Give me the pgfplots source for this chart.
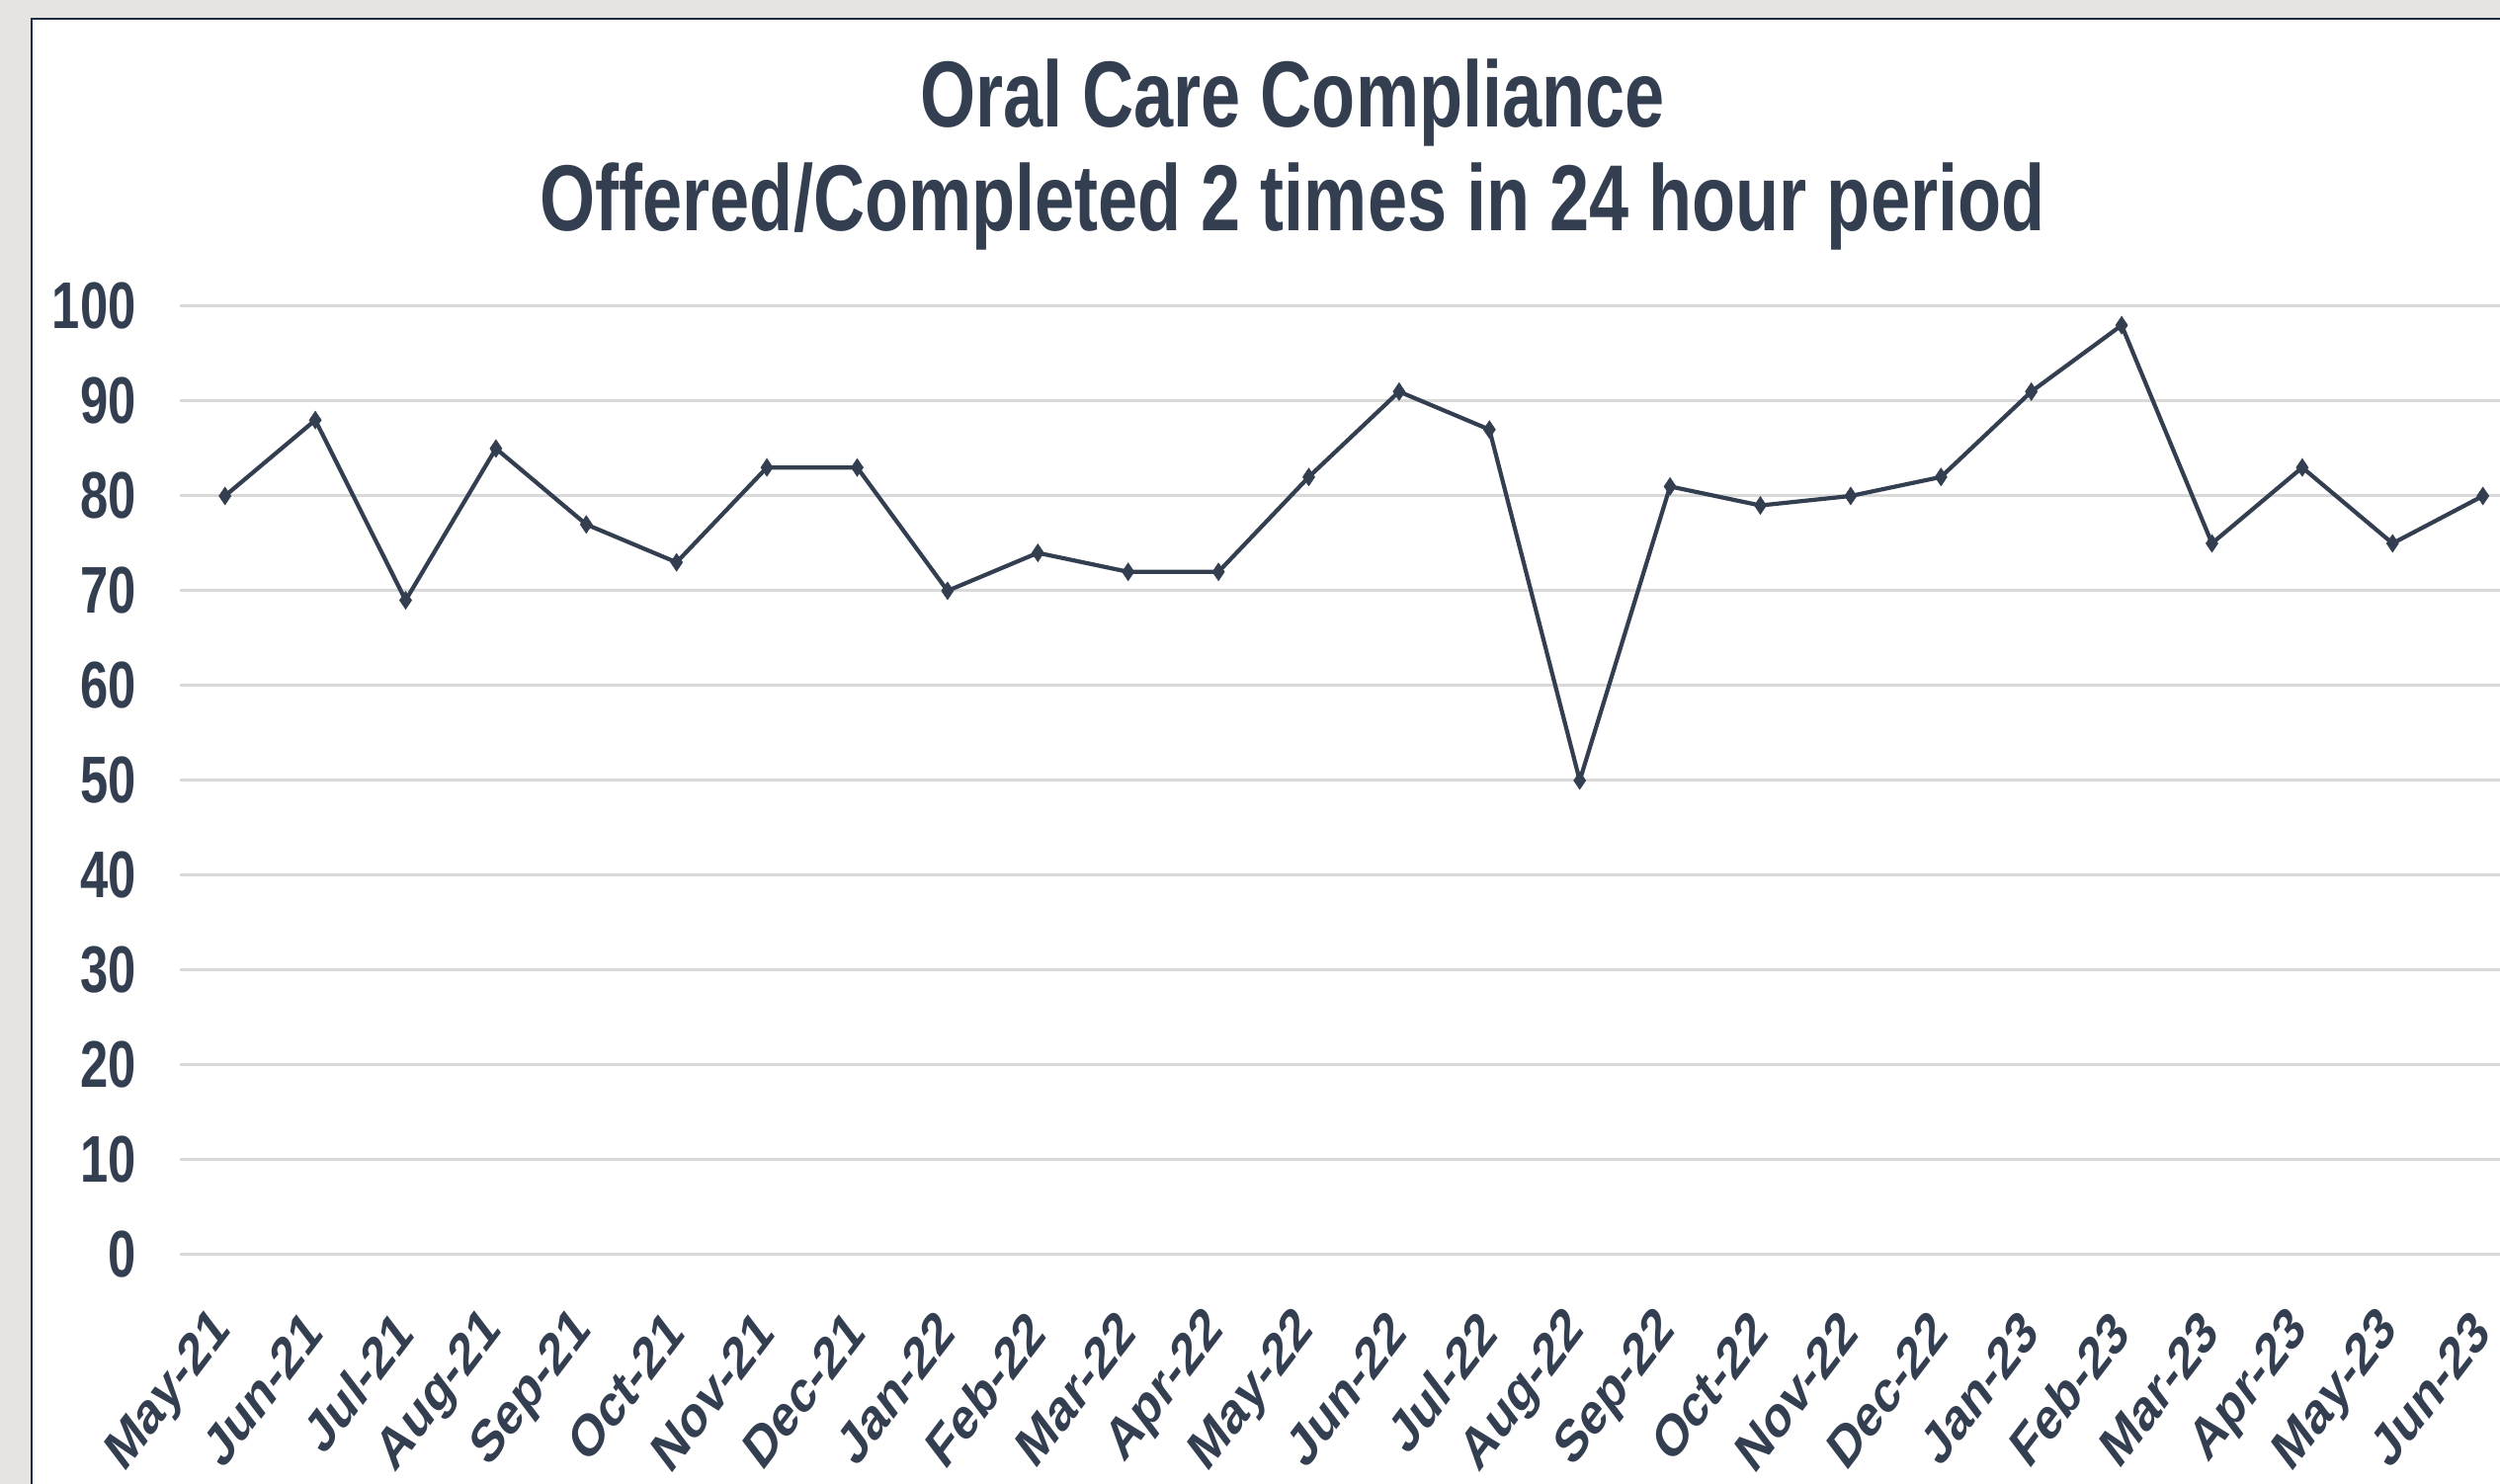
\documentclass[border=0pt]{standalone}
\usepackage{fontspec}
\usepackage{pgfplots}
\pgfplotsset{compat=1.18}
\setmainfont{Liberation Sans}
\newfontfamily\cfont{Liberation Sans Bold}[FakeStretch=0.76]
\newfontfamily\lfont{Liberation Sans Bold}
\definecolor{textc}{HTML}{333F50}
\definecolor{gridc}{HTML}{D9D9D9}
\definecolor{framec}{HTML}{1F2A44}
\definecolor{bgc}{HTML}{E6E4E0}
\begin{document}
\begin{tikzpicture}
\fill[bgc] (0,0) rectangle (253mm,150.2mm);
\filldraw[fill=white, draw=framec, line width=0.25mm] (3.2mm,-5mm) rectangle (262mm,148.3mm);
\begin{axis}[
  at={(18.2mm,23.2mm)}, anchor=south west,
  scale only axis, width=237.64mm, height=96mm,
  xmin=-0.5, xmax=25.5, ymin=0, ymax=100,
  clip=false,
  axis line style={draw=none},
  major tick length=0pt,
  ymajorgrids, grid style={gridc, line width=0.3mm},
  ytick={0,10,...,100},
  xtick={0,...,25},
  xticklabels={May-21,Jun-21,Jul-21,Aug-21,Sep-21,Oct-21,Nov-21,Dec-21,Jan-22,Feb-22,Mar-22,Apr-22,May-22,Jun-22,Jul-22,Aug-22,Sep-22,Oct-22,Nov-22,Dec-22,Jan-23,Feb-23,Mar-23,Apr-23,May-23,Jun-23},
  /pgf/number format/assume math mode=true,
  yticklabel style={font=\cfont\fontsize{19}{19}\selectfont, text=textc, xshift=-3.2mm},
  xticklabel style={font=\lfont\fontsize{17}{17}\selectfont, text=textc, xshift=0.5mm, yshift=-5.9mm, cm={0.537,0.707,-0.537,0.707,(0,0)}, anchor=east},
]
\addplot[textc, line width=0.42mm, mark=diamond*, mark size=2.6pt, mark options={fill=textc, draw=textc, line width=0.1pt, xscale=0.9}]
coordinates {
(0,80) (1,88) (2,69) (3,85) (4,77) (5,73) (6,83) (7,83) (8,70) (9,74)
(10,72) (11,72) (12,82) (13,91) (14,87) (15,50) (16,81) (17,79) (18,80) (19,82)
(20,91) (21,98) (22,75) (23,83) (24,75) (25,80)
};
\end{axis}
\node[anchor=base, font=\cfont\fontsize{27}{27}\selectfont, text=textc] at (130.8mm,137.3mm) {Oral Care Compliance};
\node[anchor=base, font=\cfont\fontsize{27}{27}\selectfont, text=textc] at (130.8mm,126.8mm) {Offered/Completed 2 times in 24 hour period};
\pgfresetboundingbox
\useasboundingbox (0,0) rectangle (253mm,150.2mm);
\end{tikzpicture}
\end{document}
